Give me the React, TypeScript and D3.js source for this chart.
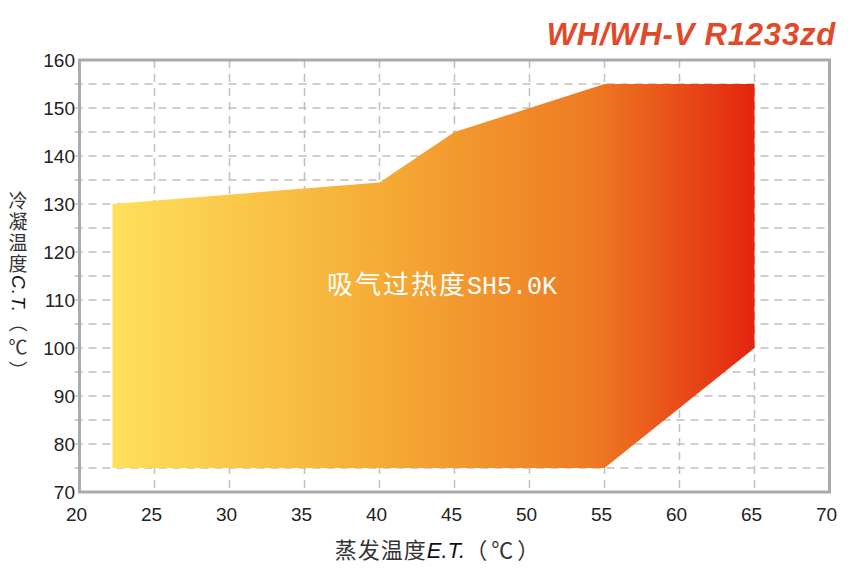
import React from "react";
import * as d3 from "d3";

const envelopeX = [22.2, 22.2, 40, 45, 55, 65, 65, 55];
const envelopeY = [75, 130, 134.5, 145, 155, 155, 100, 75];
const xTicks = [20, 25, 30, 35, 40, 45, 50, 55, 60, 65, 70];
const yTicks = [70, 80, 90, 100, 110, 120, 130, 140, 150, 160];
const yGrid = [75, 80, 85, 90, 95, 100, 105, 110, 115, 120, 125, 130, 135, 140, 145, 150, 155];
const xGrid = [25, 30, 35, 40, 45, 50, 55, 60, 65];
const gradStops = [
  { o: 0, c: "#FFE05B" },
  { o: 0.4, c: "#F5AE36" },
  { o: 0.75, c: "#EE7A22" },
  { o: 1, c: "#E3250F" },
];

export default function App() {
  const W = 855, H = 578;
  const x = d3.scaleLinear().domain([20, 70]).range([79.5, 829.5]);
  const y = d3.scaleLinear().domain([70, 160]).range([492, 60]);
  const pts: [number, number][] = envelopeX.map((v, i) => [x(v), y(envelopeY[i])]);
  const path = d3.line()(pts.concat([pts[0]])) + "Z";
  const font = "'Liberation Sans', Arial, sans-serif";
  const cjk = "'Noto Sans CJK SC', sans-serif";
  return (
    <svg width={W} height={H} style={{ position: "absolute", left: 0, top: 0 }}>
      <defs>
        <linearGradient id="g" gradientUnits="userSpaceOnUse" x1={x(22.2)} x2={x(65)} y1={0} y2={0}>
          {gradStops.map((s, i) => (
            <stop key={i} offset={s.o} stopColor={s.c} />
          ))}
        </linearGradient>
      </defs>
      <rect x={0} y={0} width={W} height={H} fill="#fff" />
      {yGrid.map((v) => (
        <line key={"yg" + v} x1={x(20) - 5} x2={x(70)} y1={y(v)} y2={y(v)} stroke="#c0c0c0" strokeWidth={1.5} strokeDasharray="8,6" />
      ))}
      {xGrid.map((v) => (
        <line key={"xg" + v} x1={x(v)} x2={x(v)} y1={y(160)} y2={y(70)} stroke="#c0c0c0" strokeWidth={1.5} strokeDasharray="8,6" />
      ))}
      <path d={path} fill="url(#g)" />
      <rect x={x(20)} y={y(160)} width={x(70) - x(20)} height={y(70) - y(160)} fill="none" stroke="#aaaaaa" strokeWidth={3} />
      {yTicks.map((v) => (
        <text key={"yt" + v} x={75} y={y(v) + 7} textAnchor="end" fontFamily={font} fontSize={19} fill="#222">{v}</text>
      ))}
      {xTicks.map((v) => (
        <text key={"xt" + v} x={x(v) - 3} y={521} textAnchor="middle" fontFamily={font} fontSize={19} fill="#222">{v}</text>
      ))}
      <text x={836} y={45} textAnchor="end" fontFamily={font} fontSize={31} letterSpacing={0.8} fontWeight="bold" fontStyle="italic" fill="#E04A2A">WH/WH-V R1233zd</text>
      <text x={442} y={294} textAnchor="middle" fontSize={26} fill="#fff">
        <tspan fontFamily={cjk} letterSpacing={2}>吸气过热度</tspan>
        <tspan fontFamily="'Liberation Mono', monospace" fontSize={25} letterSpacing={0}>SH5.0K</tspan>
      </text>
      <text x={439} y={558} textAnchor="middle" fontFamily={cjk} fontSize={22} fill="#333">
        <tspan letterSpacing={1}>蒸发温度</tspan>
        <tspan fontFamily={font} fontStyle="italic" fill="#111">E.T.</tspan>
        <tspan letterSpacing={4}>（℃）</tspan>
      </text>
      <text x={18} y={288} textAnchor="middle" fontFamily={cjk} fontSize={19} fill="#333"
        style={{ writingMode: "vertical-rl", textOrientation: "mixed" } as any}>
        <tspan letterSpacing={2}>冷凝温度</tspan>
        <tspan fontFamily={font} fontStyle="italic" fill="#111" letterSpacing={1}>C.T.</tspan>
        <tspan letterSpacing={5}>（℃）</tspan>
      </text>
    </svg>
  );
}
